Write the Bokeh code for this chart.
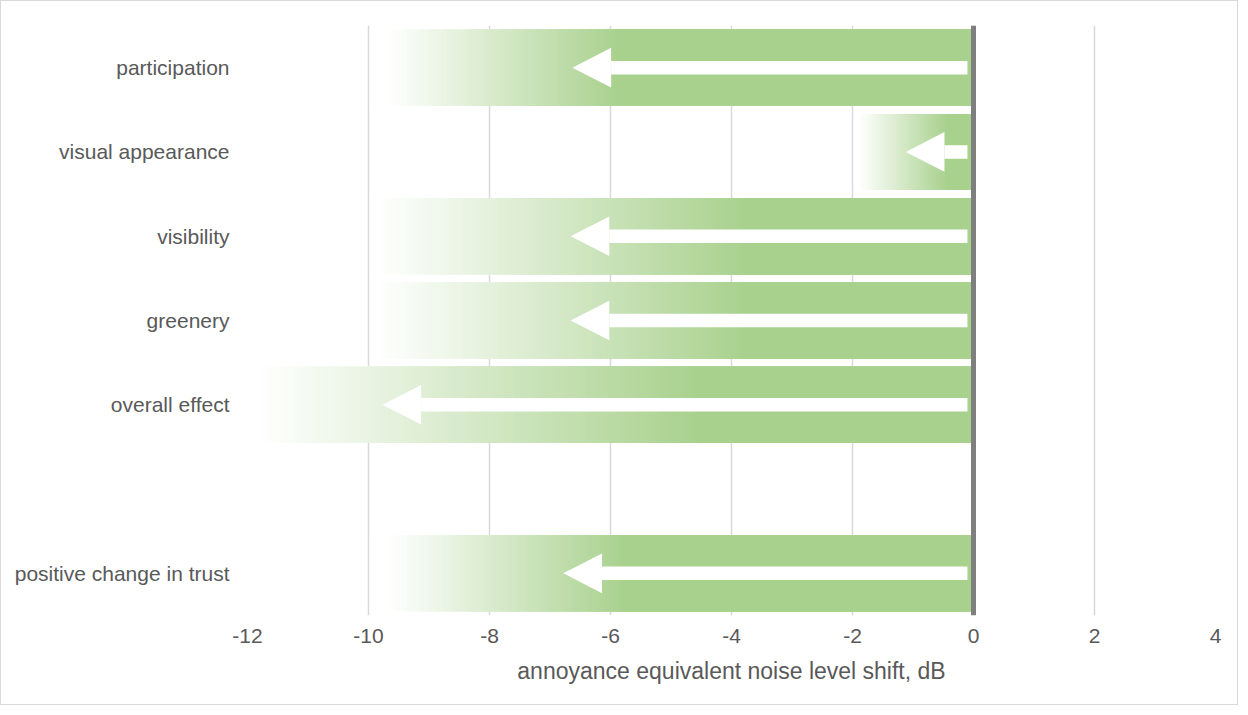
from bokeh.plotting import figure
from bokeh.models import Range1d, FixedTicker, Span
from bokeh.embed import file_html
from bokeh.resources import INLINE

# ---- data ----
categories = ["participation", "visual appearance", "visibility", "greenery",
              "overall effect", "", "positive change in trust"]
bar_values = [-10, -2, -10, -10, -12, None, -10]          # extent of shaded bar
arrow_values = [-6.63, -1.12, -6.66, -6.66, -9.77, None, -6.78]  # arrow tip
fade_to = [-9.7, -1.9, -9.9, -9.9, -11.85, None, -9.7]    # where bar becomes white
solid_from = [-5.9, -0.45, -3.8, -3.8, -4.6, None, -5.8]  # where bar becomes full green
x_ticks = [-12, -10, -8, -6, -4, -2, 0, 2, 4]
x_tick_labels = ["-12", "-10", "-8", "-6", "-4", "-2", "0", "2", "4"]

# ---- styles ----
GREEN = (169, 209, 142)
TEXT = "#595959"
GRID = "#D9D9D9"
FONT = "Liberation Sans"
BAR_H = 0.9
SHAFT_H = 0.16
HEAD_HALF = 0.235
HEAD_LEN = 0.64
SHAFT_END = -0.1
N_STEPS = 80

p = figure(width=1238, height=705, output_backend="svg", toolbar_location=None,
           x_range=Range1d(-12, 4), y_range=Range1d(len(categories) - 0.5, -0.5),
           min_border_left=246, min_border_right=24, min_border_top=24,
           min_border_bottom=91)
p.styles = {"border": "1px solid #D9D9D9"}
p.outline_line_color = None
p.background_fill_color = "white"
p.border_fill_color = "white"

# grid
p.xgrid.ticker = FixedTicker(ticks=x_ticks)
p.xgrid.grid_line_color = GRID
p.xgrid.grid_line_width = 1.5
p.ygrid.grid_line_color = None

# axes
p.xaxis.ticker = FixedTicker(ticks=x_ticks)
p.xaxis.major_label_overrides = dict(zip(x_ticks, x_tick_labels))
p.xaxis.axis_label = "annoyance equivalent noise level shift, dB"
p.yaxis.ticker = FixedTicker(ticks=list(range(len(categories))))
p.yaxis.major_label_overrides = {i: c for i, c in enumerate(categories)}
for ax in (p.xaxis[0], p.yaxis[0]):
    ax.axis_line_color = None
    ax.major_tick_line_color = None
    ax.minor_tick_line_color = None
    ax.major_tick_out = 0
    ax.major_tick_in = 0
    ax.major_label_text_color = TEXT
    ax.major_label_text_font = FONT
    ax.major_label_text_font_size = "21px"
p.yaxis.major_label_standoff = 18
p.xaxis.major_label_standoff = 13
p.xaxis.axis_label_text_font = FONT
p.xaxis.axis_label_text_font_size = "23px"
p.xaxis.axis_label_text_font_style = "normal"
p.xaxis.axis_label_text_color = TEXT
p.xaxis.axis_label_standoff = 12


def mix(t):
    r = [round(255 + (g - 255) * t) for g in GREEN]
    return "#%02x%02x%02x" % tuple(r)


# gradient bars: slices drawn from lightest to darkest, each ending at 0
for i, v in enumerate(bar_values):
    if v is None:
        continue
    lefts, rights, colors = [v + 0.02], [0], ["#ffffff"]
    a, b = fade_to[i], solid_from[i]
    for k in range(N_STEPS + 1):
        t = k / N_STEPS
        lefts.append(a + (b - a) * t)
        rights.append(0)
        colors.append(mix(t))
    n = len(lefts)
    p.quad(left=lefts, right=rights, top=[i - BAR_H / 2] * n,
           bottom=[i + BAR_H / 2] * n, fill_color=colors, line_color=None)

# arrows
ys = [i for i, v in enumerate(arrow_values) if v is not None]
tips = [v for v in arrow_values if v is not None]
p.quad(left=[t + HEAD_LEN for t in tips], right=[SHAFT_END] * len(tips),
       top=[y - SHAFT_H / 2 for y in ys], bottom=[y + SHAFT_H / 2 for y in ys],
       fill_color="white", line_color=None)
p.patches(xs=[[t, t + HEAD_LEN, t + HEAD_LEN] for t in tips],
          ys=[[y, y - HEAD_HALF, y + HEAD_HALF] for y in ys],
          fill_color="white", line_color=None)

# zero axis line
p.add_layout(Span(location=0, dimension="height", line_color="#7F7F7F", line_width=5))

open("out.html", "w").write(file_html(p, INLINE))
